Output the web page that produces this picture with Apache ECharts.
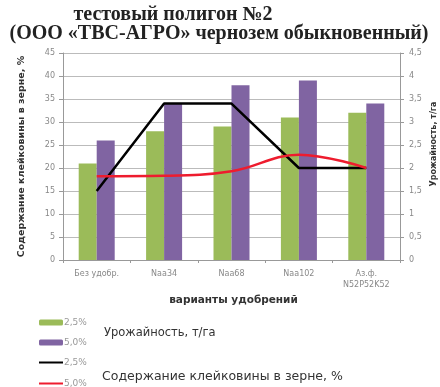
<!DOCTYPE html>
<html>
<head>
<meta charset="utf-8">
<script src="https://cdn.jsdelivr.net/npm/echarts@6/dist/echarts.min.js"></script>
<style>
  html, body { margin: 0; padding: 0; background: #fff; }
  #chart { width: 440px; height: 387px; }
</style>
</head>
<body>
<div id="chart"></div>
<script>
// варианты удобрений
const categories = ['Без удобр.', 'Naa34', 'Naa68', 'Naa102', 'Аз.ф.\nN52P52K52']
// столбцы (левая ось, %)
const bars25 = [21, 28, 29, 31, 32]
const bars50 = [26, 34, 38, 39, 34]
// линии (правая ось, т/га)
const line25 = [1.5, 3.4, 3.4, 2.0, 2.0]
const line50 = [1.82, 1.83, 1.93, 2.29, 2.0]

const comma = v => String(v).replace('.', ',')
const tickFont = {color: '#888', fontSize: 8, fontFamily: 'DejaVu Sans'}
const titleFont = {fontFamily: 'Liberation Serif', fontSize: 20, fontWeight: 'bold', color: '#222'}
const legendBase = {
  orient: 'vertical', left: 33,
  itemWidth: 24, itemHeight: 6, itemGap: 11,
  formatter: name => name.trim(),
  textStyle: {color: '#999', fontSize: 9, fontFamily: 'DejaVu Sans', padding: [0, 0, 0, -4]}
}

let myChart = echarts.init(document.getElementById('chart'))
let option = {
  animation: false,
  color: ['#9bbb59', '#8064a2', '#000000', '#ee1c2e'],
  title: [
    {text: 'тестовый полигон №2', left: 168, top: 0, textAlign: 'center', textStyle: titleFont},
    {text: '(ООО «ТВС-АГРО» чернозем обыкновенный)', left: 214, top: 19, textAlign: 'center', textStyle: titleFont}
  ],
  grid: {left: 63, right: 40, top: 53, bottom: 127, containLabel: false},
  legend: [
    Object.assign({}, legendBase, {
      top: 313,
      data: ['2,5%', '5,0%', {name: '2,5% ', itemStyle: {opacity: 0}}]
    }),
    Object.assign({}, legendBase, {
      top: 374,
      data: [{name: '5,0% ', itemStyle: {opacity: 0}}]
    })
  ],
  graphic: [
    {type: 'text', left: 104, top: 327, style: {text: 'Урожайность, т/га', fill: '#333', font: '11.5px DejaVu Sans'}},
    {type: 'text', left: 102, top: 370, style: {text: 'Содержание клейковины в зерне, %', fill: '#333', font: '12.5px DejaVu Sans'}},
    {
      type: 'text', x: 434, y: 144, rotation: Math.PI / 2,
      style: {text: 'Урожайность, т/га', fill: '#333', font: 'bold 8px DejaVu Sans', textAlign: 'center', textVerticalAlign: 'middle'}
    }
  ],
  xAxis: {
    type: 'category',
    data: categories,
    name: 'варианты удобрений',
    nameLocation: 'middle',
    nameGap: 35,
    nameTextStyle: {color: '#333', fontSize: 10.5, fontWeight: 'bold', fontFamily: 'DejaVu Sans', padding: [0, 0, 0, 4]},
    axisLine: {lineStyle: {color: '#999'}},
    axisTick: {show: true, length: 3, lineStyle: {color: '#999'}},
    axisLabel: Object.assign({interval: 0, margin: 8, lineHeight: 11}, tickFont)
  },
  yAxis: [
    {
      type: 'value', min: 0, max: 45, interval: 5,
      name: 'Содержание клейковины в зерне, %',
      nameLocation: 'middle', nameRotate: 90, nameGap: 36,
      nameTextStyle: {color: '#333', fontSize: 9.5, fontWeight: 'bold', fontFamily: 'DejaVu Sans'},
      axisLine: {show: true, lineStyle: {color: '#999'}},
      axisTick: {show: true, length: 4, lineStyle: {color: '#999'}},
      axisLabel: Object.assign({margin: 8}, tickFont),
      splitLine: {lineStyle: {color: '#bbb'}}
    },
    {
      type: 'value', min: 0, max: 4.5, interval: 0.5,
      axisLine: {show: true, lineStyle: {color: '#999'}},
      axisTick: {show: true, length: 4, lineStyle: {color: '#999'}},
      axisLabel: Object.assign({margin: 9, formatter: comma}, tickFont),
      splitLine: {show: false}
    }
  ],
  series: [
    {name: '2,5%', type: 'bar', data: bars25, barWidth: 18, barGap: '0%'},
    {name: '5,0%', type: 'bar', data: bars50, barWidth: 18, barGap: '0%'},
    {name: '2,5% ', type: 'line', yAxisIndex: 1, data: line25, symbol: 'none', lineStyle: {width: 2.5}},
    {name: '5,0% ', type: 'line', yAxisIndex: 1, data: line50, symbol: 'none', smooth: 0.4, lineStyle: {width: 2.5}}
  ]
}
myChart.setOption(option)
</script>
</body>
</html>
